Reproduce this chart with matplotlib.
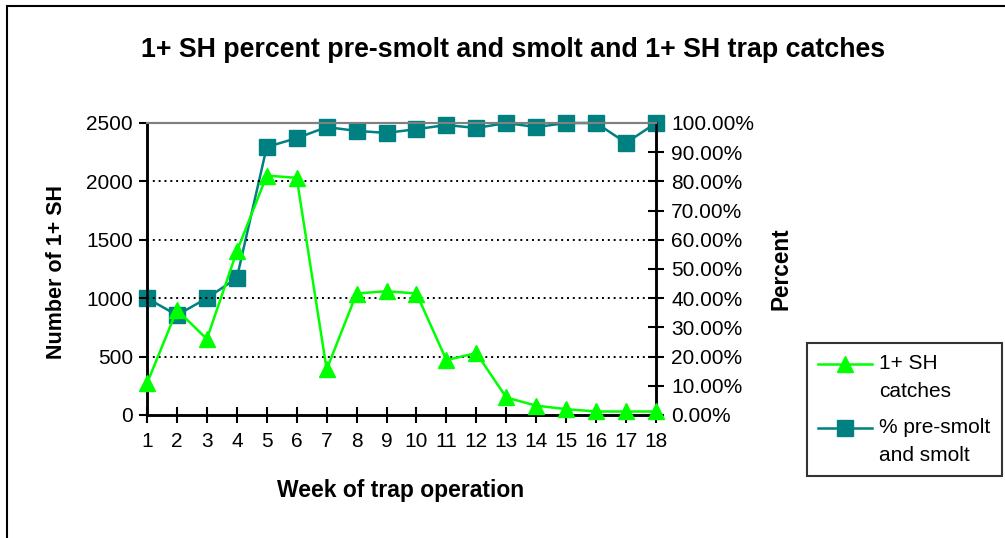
import matplotlib
matplotlib.use("Agg")
import numpy as np
import matplotlib.pyplot as plt
from matplotlib.patches import Rectangle
from matplotlib.ticker import FuncFormatter, MultipleLocator
from matplotlib.legend_handler import HandlerLine2D

plt.rcParams['font.family'] = ['Liberation Sans', 'DejaVu Sans']

weeks = list(range(1, 19))
catches = [270, 900, 650, 1400, 2050, 2030, 390, 1040, 1060, 1040, 470, 530, 150, 80, 50, 30, 30, 30]
pct_smolt = [0.40, 0.342, 0.40, 0.469, 0.918, 0.948, 0.986, 0.973, 0.966, 0.979, 0.993, 0.983, 1.0, 0.986, 1.0, 1.0, 0.932, 1.0]

title = "1+ SH percent pre-smolt and smolt and 1+ SH trap catches"
xlabel = "Week of trap operation"
ylabel_left = "Number of 1+ SH"
ylabel_right = "Percent"
label_catch = "1+ SH\ncatches"
label_pct = "% pre-smolt\nand smolt"


class RaisedHandler(HandlerLine2D):
    """Line handler aligned with the first line of a two-line label."""
    def __init__(self, shift, **kw):
        super().__init__(**kw)
        self.shift = shift

    def create_artists(self, legend, orig_handle, xdescent, ydescent, width, height, fontsize, trans):
        return super().create_artists(legend, orig_handle, xdescent, ydescent - 2 * self.shift,
                                      width, height, fontsize, trans)


W, H = 1005, 538
fig = plt.figure(figsize=(W / 100, H / 100), dpi=100)
fig.patch.set_facecolor('white')

# outer border (only left/top visible)
fig.patches.append(Rectangle((7 / W, -0.2), 1.5, 1.2 - 6 / H, transform=fig.transFigure,
                             fill=False, edgecolor='black', linewidth=1.5, zorder=0))

ax = fig.add_axes([147 / W, 1 - 415 / H, (656 - 147) / W, (415 - 123) / H])
ax2 = ax.twinx()

ax.set_xlim(1, 18)
ax.set_ylim(0, 2500)
ax2.set_ylim(0, 1.0)

ax.yaxis.set_major_locator(MultipleLocator(500))
ax.set_xticks(weeks)
ax2.yaxis.set_major_locator(MultipleLocator(0.1))
ax2.yaxis.set_major_formatter(FuncFormatter(lambda v, p: f"{v * 100:.2f}%"))

ax.grid(axis='y', linestyle=(0, (1, 2)), color='black', linewidth=1.4)
ax.set_axisbelow(True)
for gl, val in zip(ax.get_ygridlines(), ax.get_yticks()):
    if val <= 0 or val >= 2500:
        gl.set_visible(False)

for a in (ax, ax2):
    a.spines['top'].set_color('#808080')
    a.spines['top'].set_linewidth(1.5)
    for s in ('left', 'right', 'bottom'):
        a.spines[s].set_color('black')
        a.spines[s].set_linewidth(1.8)

ax.tick_params(axis='y', direction='out', length=6, width=1.5, labelsize=15, pad=4)
ax.tick_params(axis='x', direction='inout', length=12, width=1.5, labelsize=15, pad=6)
ax2.tick_params(axis='y', direction='inout', length=12, width=1.5, labelsize=15, pad=5)

l2, = ax2.plot(weeks, pct_smolt, color='#008080', marker='s', markersize=11,
               linewidth=1.8, clip_on=False, zorder=3, label=label_pct)
ax2.set_zorder(1)
ax.set_zorder(2)
ax.patch.set_visible(False)
l1, = ax.plot(weeks, catches, color='#00FF00', marker='^', markersize=11,
              linewidth=1.8, clip_on=False, zorder=4, label=label_catch)

ax.set_xlabel(xlabel, fontsize=16.5, fontweight='bold', va='center')
ax.xaxis.set_label_coords(401 / W, 1 - 490 / H, transform=fig.transFigure)
ax.set_ylabel(ylabel_left, fontsize=15.5, fontweight='bold', va='center')
ax.yaxis.set_label_coords(57 / W, 1 - 272 / H, transform=fig.transFigure)
ax2.set_ylabel(ylabel_right, fontsize=16.3, fontweight='bold', va='center')
ax2.yaxis.set_label_coords(781 / W, 1 - 269 / H, transform=fig.transFigure)

fig.text(513 / W, 1 - 50 / H, title, ha='center', va='center', fontsize=19.3, fontweight='bold')

hmap = {l1: RaisedHandler(10.0), l2: RaisedHandler(10.0)}
leg = fig.legend([l1, l2], [label_catch, label_pct], loc='upper left',
                 bbox_to_anchor=(807 / W, 1 - 343 / H), frameon=True, fancybox=False,
                 edgecolor='black', fontsize=15, handlelength=2.55, borderpad=0.55,
                 labelspacing=0.85, handletextpad=0.35, borderaxespad=0, handler_map=hmap)
leg.get_frame().set_linewidth(1.5)
for t in leg.get_texts():
    t.set_linespacing(1.55)

fig.savefig("out.png", dpi=100)
